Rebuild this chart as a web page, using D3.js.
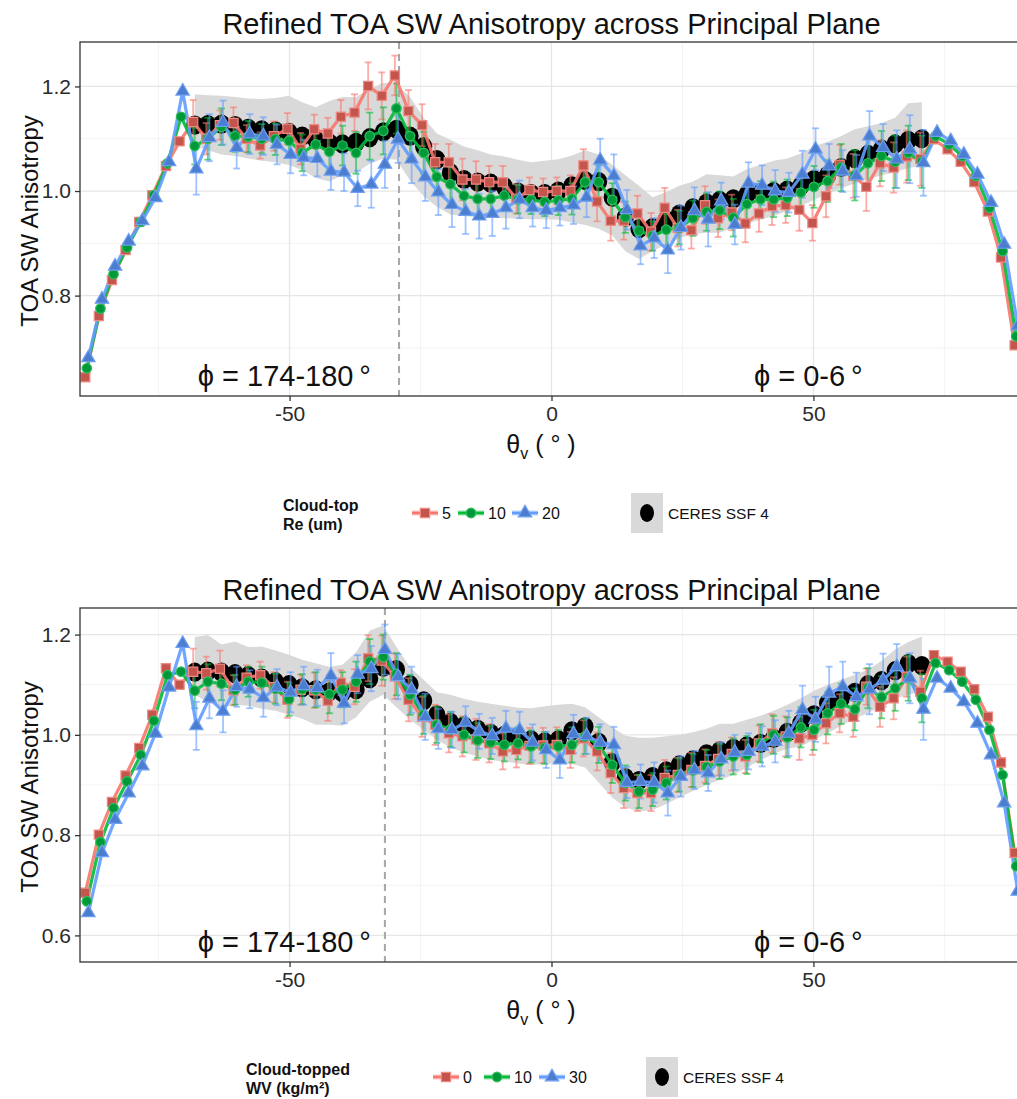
<!DOCTYPE html>
<html>
<head>
<meta charset="utf-8">
<script src="https://cdn.jsdelivr.net/npm/d3@7"></script>
<style>
body { margin: 0; background: #fff; }
#chart { width: 1017px; height: 1099px; overflow: hidden; }
text { font-family: "Liberation Sans", Arial, Helvetica, sans-serif; }
</style>
</head>
<body>
<div id="chart"></div>
<script>

// View zenith angle bins along the principal plane (deg)
const viewAngles = [
    -88.7, -86.1, -83.6, -81.0, -78.4, -75.9, -73.3, -70.7, -68.1, -65.6,
    -63.0, -60.4, -57.9, -55.3, -52.7, -50.1, -47.6, -45.0, -42.4, -39.9,
    -37.3, -34.7, -32.1, -29.6, -27.0, -24.4, -21.9, -19.3, -16.7, -14.1,
    -11.6, -9.0, -6.4, -3.9, -1.3, 1.3, 3.9, 6.4, 9.0, 11.6,
    14.1, 16.7, 19.3, 21.9, 24.4, 27.0, 29.6, 32.1, 34.7, 37.3,
    39.9, 42.4, 45.0, 47.6, 50.1, 52.7, 55.3, 57.9, 60.4, 63.0,
    65.6, 68.1, 70.7, 73.3, 75.9, 78.4, 81.0, 83.6, 86.1, 88.7
];
// CERES + error bars only exist for these bins
const ceresAngles = viewAngles.slice(8, 63);

const xTicks = [-50, 0, 50];
const xMinor = [-75, -25, 25, 75];

// ---------- top panel: cloud-top Re ----------
const re5 = [
    0.644, 0.761, 0.830, 0.887, 0.941, 0.992, 1.048, 1.095, 1.132, 1.100,
    1.126, 1.130, 1.100, 1.087, 1.105, 1.119, 1.081, 1.118, 1.110, 1.142,
    1.150, 1.201, 1.182, 1.221, 1.153, 1.126, 1.055, 1.055, 1.022, 1.022,
    1.017, 1.017, 0.985, 1.002, 0.998, 1.000, 1.000, 1.049, 0.980, 0.943,
    0.943, 0.957, 0.922, 0.968, 0.929, 0.925, 0.973, 0.948, 0.959, 0.938,
    0.957, 0.971, 0.973, 0.964, 0.939, 0.990, 1.050, 1.029, 1.008, 1.053,
    1.045, 1.066, 1.061, 1.099, 1.080, 1.056, 1.017, 0.961, 0.873, 0.705
];
const re10 = [
    0.661, 0.775, 0.841, 0.892, 0.941, 0.992, 1.053, 1.142, 1.086, 1.100,
    1.123, 1.105, 1.104, 1.100, 1.099, 1.096, 1.073, 1.089, 1.075, 1.087,
    1.073, 1.105, 1.115, 1.158, 1.105, 1.073, 1.027, 1.013, 0.991, 0.985,
    0.985, 0.991, 0.984, 0.983, 0.979, 0.982, 0.985, 1.017, 1.017, 0.983,
    0.950, 0.924, 0.914, 0.926, 0.930, 0.948, 0.960, 0.963, 0.949, 0.975,
    0.984, 0.984, 0.987, 0.997, 1.008, 1.019, 1.045, 1.030, 1.053, 1.067,
    1.056, 1.073, 1.056, 1.105, 1.089, 1.067, 1.029, 0.968, 0.885, 0.722
];
const re20 = [
    0.681, 0.793, 0.856, 0.904, 0.943, 0.987, 1.056, 1.191, 1.042, 1.102,
    1.131, 1.083, 1.109, 1.105, 1.089, 1.070, 1.064, 1.062, 1.038, 1.036,
    1.005, 1.013, 1.051, 1.099, 1.061, 1.027, 0.998, 0.974, 0.961, 0.952,
    0.957, 0.968, 0.984, 0.968, 0.963, 0.968, 0.973, 0.988, 1.059, 1.029,
    0.964, 0.895, 0.910, 0.887, 0.930, 0.962, 0.946, 0.981, 0.936, 1.015,
    1.011, 1.000, 0.997, 1.032, 1.080, 1.048, 1.038, 1.029, 1.105, 1.083,
    1.061, 1.080, 1.054, 1.112, 1.096, 1.070, 1.032, 0.978, 0.898, 0.742
];
// half widths of error bars (CERES bins)
const re5Err = [
    0.042, 0.030, 0.028, 0.030, 0.026, 0.025, 0.028, 0.030, 0.030, 0.028,
    0.030, 0.032, 0.035, 0.045, 0.045, 0.038, 0.040, 0.040, 0.035, 0.035,
    0.040, 0.035, 0.031, 0.031, 0.028, 0.024, 0.026, 0.026, 0.030, 0.031,
    0.038, 0.038, 0.036, 0.034, 0.036, 0.038, 0.035, 0.035, 0.036, 0.036,
    0.034, 0.036, 0.035, 0.036, 0.034, 0.040, 0.034, 0.040, 0.038, 0.042,
    0.046, 0.044, 0.048, 0.050, 0.051
];
const re10Err = [
    0.035, 0.040, 0.035, 0.030, 0.030, 0.028, 0.030, 0.030, 0.035, 0.033,
    0.035, 0.038, 0.040, 0.045, 0.045, 0.048, 0.042, 0.040, 0.035, 0.033,
    0.030, 0.030, 0.028, 0.028, 0.027, 0.027, 0.027, 0.028, 0.030, 0.032,
    0.032, 0.032, 0.030, 0.030, 0.028, 0.030, 0.032, 0.034, 0.036, 0.036,
    0.036, 0.036, 0.035, 0.034, 0.035, 0.036, 0.040, 0.040, 0.045, 0.048,
    0.045, 0.048, 0.050, 0.052, 0.050
];
const re20Err = [
    0.049, 0.045, 0.042, 0.040, 0.038, 0.036, 0.038, 0.036, 0.034, 0.034,
    0.036, 0.036, 0.034, 0.045, 0.045, 0.045, 0.046, 0.046, 0.044, 0.043,
    0.043, 0.043, 0.043, 0.040, 0.036, 0.036, 0.034, 0.034, 0.036, 0.038,
    0.041, 0.041, 0.038, 0.035, 0.038, 0.044, 0.042, 0.045, 0.052, 0.035,
    0.038, 0.040, 0.038, 0.040, 0.038, 0.045, 0.040, 0.042, 0.040, 0.040,
    0.048, 0.045, 0.055, 0.065, 0.063
];
const ceresTop = [
    1.126, 1.127, 1.128, 1.125, 1.120, 1.117, 1.115, 1.112, 1.105, 1.098,
    1.092, 1.090, 1.093, 1.102, 1.113, 1.118, 1.105, 1.085, 1.060, 1.035,
    1.022, 1.017, 1.015, 1.008, 0.998, 0.995, 0.995, 1.000, 1.010, 1.020,
    1.018, 0.988, 0.950, 0.928, 0.930, 0.945, 0.956, 0.968, 0.977, 0.982,
    0.985, 0.993, 0.998, 0.999, 1.002, 1.010, 1.022, 1.030, 1.045, 1.062,
    1.070, 1.080, 1.090, 1.097, 1.100
];
const ceresTopHi = [
    1.185, 1.183, 1.182, 1.180, 1.177, 1.176, 1.178, 1.182, 1.170, 1.160,
    1.172, 1.180, 1.180, 1.195, 1.207, 1.205, 1.180, 1.140, 1.110, 1.098,
    1.085, 1.078, 1.070, 1.066, 1.060, 1.055, 1.058, 1.061, 1.068, 1.078,
    1.070, 1.050, 1.030, 1.010, 0.988, 0.998, 1.010, 1.018, 1.032, 1.030,
    1.028, 1.042, 1.050, 1.058, 1.062, 1.072, 1.085, 1.094, 1.105, 1.118,
    1.124, 1.130, 1.140, 1.168, 1.170
];
const ceresTopLo = [
    1.086, 1.078, 1.070, 1.067, 1.062, 1.058, 1.055, 1.050, 1.040, 1.025,
    1.018, 1.030, 1.035, 1.052, 1.062, 1.060, 1.020, 0.990, 0.970, 0.955,
    0.952, 0.950, 0.949, 0.948, 0.947, 0.946, 0.946, 0.945, 0.940, 0.935,
    0.928, 0.915, 0.885, 0.870, 0.885, 0.898, 0.910, 0.918, 0.920, 0.920,
    0.930, 0.938, 0.945, 0.952, 0.962, 0.972, 0.983, 0.995, 1.005, 1.015,
    1.022, 1.030, 1.036, 1.044, 1.048
];

// ---------- bottom panel: cloud-topped WV ----------
const wv0 = [
    0.685, 0.801, 0.866, 0.919, 0.974, 1.040, 1.133, 1.100, 1.126, 1.123,
    1.132, 1.089, 1.114, 1.119, 1.095, 1.070, 1.090, 1.089, 1.068, 1.104,
    1.096, 1.153, 1.148, 1.117, 1.070, 1.036, 1.020, 1.003, 0.997, 0.991,
    0.983, 0.967, 0.970, 0.978, 0.979, 0.980, 0.970, 0.993, 0.967, 0.924,
    0.894, 0.884, 0.884, 0.914, 0.920, 0.930, 0.938, 0.952, 0.962, 0.957,
    0.983, 1.003, 0.997, 0.993, 1.000, 1.023, 1.043, 1.036, 1.096, 1.056,
    1.073, 1.116, 1.086, 1.159, 1.146, 1.126, 1.091, 1.036, 0.945, 0.765
];
const wv10 = [
    0.668, 0.786, 0.854, 0.907, 0.960, 1.028, 1.119, 1.126, 1.088, 1.106,
    1.102, 1.090, 1.106, 1.104, 1.092, 1.071, 1.091, 1.090, 1.081, 1.090,
    1.106, 1.146, 1.155, 1.121, 1.080, 1.040, 1.020, 1.011, 1.000, 0.989,
    0.985, 0.980, 0.983, 0.977, 0.974, 0.977, 0.980, 0.997, 0.980, 0.940,
    0.904, 0.887, 0.891, 0.904, 0.920, 0.929, 0.936, 0.947, 0.957, 0.960,
    0.983, 1.000, 0.995, 1.015, 1.010, 1.043, 1.062, 1.051, 1.093, 1.075,
    1.093, 1.113, 1.073, 1.143, 1.129, 1.106, 1.070, 1.010, 0.920, 0.738
];
const wv30 = [
    0.645, 0.765, 0.831, 0.884, 0.938, 1.003, 1.095, 1.182, 1.018, 1.073,
    1.047, 1.096, 1.091, 1.074, 1.095, 1.085, 1.098, 1.094, 1.118, 1.063,
    1.121, 1.132, 1.170, 1.116, 1.090, 1.036, 1.012, 1.010, 1.025, 1.007,
    0.998, 1.013, 1.010, 0.985, 0.970, 0.950, 1.002, 0.998, 0.985, 0.980,
    0.905, 0.907, 0.905, 0.884, 0.917, 0.930, 0.924, 0.952, 0.965, 0.967,
    0.977, 0.987, 1.003, 1.050, 1.031, 1.083, 1.096, 1.076, 1.091, 1.109,
    1.136, 1.113, 1.051, 1.113, 1.093, 1.066, 1.023, 0.960, 0.864, 0.688
];
const wv0Err = [
    0.046, 0.033, 0.036, 0.030, 0.025, 0.027, 0.030, 0.036, 0.030, 0.035,
    0.040, 0.025, 0.035, 0.046, 0.050, 0.045, 0.043, 0.040, 0.040, 0.038,
    0.040, 0.041, 0.038, 0.036, 0.035, 0.036, 0.035, 0.035, 0.036, 0.036,
    0.038, 0.040, 0.040, 0.036, 0.036, 0.036, 0.034, 0.034, 0.033, 0.033,
    0.033, 0.033, 0.036, 0.038, 0.040, 0.043, 0.040, 0.040, 0.038, 0.040,
    0.036, 0.040, 0.042, 0.040, 0.042
];
const wv10Err = [
    0.035, 0.035, 0.033, 0.030, 0.030, 0.032, 0.030, 0.033, 0.030, 0.035,
    0.038, 0.035, 0.040, 0.045, 0.045, 0.042, 0.040, 0.038, 0.036, 0.035,
    0.035, 0.035, 0.033, 0.033, 0.032, 0.032, 0.032, 0.033, 0.035, 0.035,
    0.036, 0.036, 0.035, 0.033, 0.033, 0.033, 0.033, 0.033, 0.034, 0.035,
    0.036, 0.038, 0.038, 0.038, 0.040, 0.040, 0.040, 0.042, 0.040, 0.042,
    0.040, 0.042, 0.045, 0.045, 0.048
];
const wv30Err = [
    0.048, 0.040, 0.042, 0.040, 0.038, 0.038, 0.036, 0.040, 0.038, 0.036,
    0.045, 0.040, 0.038, 0.045, 0.050, 0.045, 0.046, 0.046, 0.040, 0.036,
    0.032, 0.035, 0.036, 0.035, 0.036, 0.036, 0.036, 0.036, 0.038, 0.036,
    0.036, 0.036, 0.031, 0.034, 0.040, 0.045, 0.040, 0.038, 0.036, 0.033,
    0.035, 0.036, 0.040, 0.042, 0.045, 0.048, 0.045, 0.053, 0.050, 0.048,
    0.050, 0.053, 0.045, 0.050, 0.061
];
const ceresBot = [
    1.125, 1.127, 1.125, 1.122, 1.118, 1.113, 1.106, 1.100, 1.094, 1.090,
    1.086, 1.084, 1.090, 1.112, 1.135, 1.130, 1.100, 1.068, 1.040, 1.025,
    1.018, 1.011, 1.003, 0.999, 0.996, 0.990, 0.986, 0.990, 1.008, 1.016,
    0.985, 0.945, 0.915, 0.909, 0.917, 0.928, 0.940, 0.950, 0.962, 0.968,
    0.973, 0.978, 0.983, 0.993, 1.005, 1.023, 1.040, 1.063, 1.072, 1.085,
    1.100, 1.108, 1.128, 1.142, 1.138
];
const ceresBotHi = [
    1.195, 1.199, 1.180, 1.186, 1.175, 1.176, 1.168, 1.160, 1.150, 1.143,
    1.136, 1.140, 1.165, 1.208, 1.218, 1.175, 1.135, 1.110, 1.085, 1.080,
    1.072, 1.066, 1.062, 1.058, 1.054, 1.053, 1.057, 1.060, 1.062, 1.055,
    1.035, 1.015, 0.998, 0.994, 0.994, 0.997, 1.000, 1.005, 1.012, 1.022,
    1.022, 1.030, 1.038, 1.048, 1.060, 1.073, 1.088, 1.100, 1.110, 1.120,
    1.130, 1.148, 1.170, 1.185, 1.196
];
const ceresBotLo = [
    1.080, 1.065, 1.055, 1.060, 1.058, 1.052, 1.048, 1.040, 1.032, 1.020,
    1.020, 1.018, 1.035, 1.066, 1.080, 1.055, 1.030, 1.010, 0.990, 0.975,
    0.965, 0.957, 0.950, 0.947, 0.943, 0.940, 0.942, 0.944, 0.942, 0.935,
    0.905, 0.875, 0.855, 0.847, 0.850, 0.862, 0.875, 0.888, 0.900, 0.910,
    0.920, 0.935, 0.950, 0.962, 0.973, 0.977, 0.990, 1.003, 1.018, 1.033,
    1.043, 1.058, 1.072, 1.080, 1.086
];

const topYTicks = [0.8, 1.0, 1.2];
const topYMinor = [0.7, 0.9, 1.1];
const botYTicks = [0.6, 0.8, 1.0, 1.2];
const botYMinor = [0.7, 0.9, 1.1];

const reLabels = ["5", "10", "20"];
const wvLabels = ["0", "10", "30"];
const ceresLabel = "CERES SSF 4";
const plotTitle = "Refined TOA SW Anisotropy across Principal Plane";

// colours / marker per series (red, green, blue)
const seriesStyle = [
    {line: "#F8766D", fill: "#C4554D", rim: "#EE8A83", shape: d3.symbolSquare, size: 85, dodge: -0.3},
    {line: "#00BA38", fill: "#00993A", rim: "#2FBE5C", shape: d3.symbolCircle, size: 72, dodge: 0},
    {line: "#619CFF", fill: "#4B7DD0", rim: "#6F9FF0", shape: d3.symbolTriangle, size: 78, dodge: 0.3}
];


class AnisotropyPanel {
    constructor(svg, config) {
        this.svg = svg;
        this.config = config;
        this.initVis();
    }

    initVis() {
        let vis = this;
        let c = vis.config;

        // panel runs slightly past the right edge of the page, like in the picture
        vis.margin = {left: 80, top: c.top};
        vis.width = 943;
        vis.height = 354;

        vis.g = vis.svg.append("g")
            .attr("transform", "translate(" + vis.margin.left + "," + vis.margin.top + ")");

        vis.x = d3.scaleLinear().domain([-90, 90]).range([0, vis.width]);
        vis.y = d3.scaleLinear().domain(c.yDomain).range([vis.height, 0]);

        vis.svg.append("clipPath").attr("id", "clip-" + c.id)
            .append("rect")
            .attr("width", vis.width)
            .attr("height", vis.height);

        // grid
        let grid = vis.g.append("g").attr("class", "grid");
        grid.selectAll(".ymin").data(c.yMinor).join("line")
            .attr("x1", 0).attr("x2", vis.width)
            .attr("y1", d => vis.y(d)).attr("y2", d => vis.y(d))
            .attr("stroke", "#F3F3F3").attr("stroke-width", 1);
        grid.selectAll(".xmin").data(xMinor).join("line")
            .attr("y1", 0).attr("y2", vis.height)
            .attr("x1", d => vis.x(d)).attr("x2", d => vis.x(d))
            .attr("stroke", "#F3F3F3").attr("stroke-width", 1);
        grid.selectAll(".ymaj").data(c.yTicks).join("line")
            .attr("x1", 0).attr("x2", vis.width)
            .attr("y1", d => vis.y(d)).attr("y2", d => vis.y(d))
            .attr("stroke", "#E6E6E6").attr("stroke-width", 1.3);
        grid.selectAll(".xmaj").data(xTicks).join("line")
            .attr("y1", 0).attr("y2", vis.height)
            .attr("x1", d => vis.x(d)).attr("x2", d => vis.x(d))
            .attr("stroke", "#E6E6E6").attr("stroke-width", 1.3);

        vis.plot = vis.g.append("g").attr("clip-path", "url(#clip-" + c.id + ")");

        // panel border
        vis.g.append("rect")
            .attr("width", vis.width).attr("height", vis.height)
            .attr("fill", "none").attr("stroke", "#333").attr("stroke-width", 1.3);

        // axes
        vis.xAxis = d3.axisBottom(vis.x).tickValues(xTicks).tickFormat(d => String(d))
            .tickSize(5).tickPadding(5);
        vis.yAxis = d3.axisLeft(vis.y).tickValues(c.yTicks).tickFormat(d3.format(".1f"))
            .tickSize(5).tickPadding(4);

        vis.g.append("g").attr("class", "x-axis")
            .attr("transform", "translate(0," + vis.height + ")")
            .call(vis.xAxis);
        vis.g.append("g").attr("class", "y-axis")
            .call(vis.yAxis);
        vis.g.selectAll(".x-axis, .y-axis")
            .attr("font-size", 21).attr("font-family", null)
            .call(g => g.select(".domain").remove())
            .call(g => g.selectAll("line").attr("stroke", "#333").attr("stroke-width", 1.3))
            .call(g => g.selectAll("text").attr("fill", "#2b2b2b"));

        // titles
        vis.svg.append("text")
            .attr("x", 80 + vis.width / 2).attr("y", c.top - 8)
            .attr("text-anchor", "middle").attr("font-size", 29).attr("fill", "#111")
            .text(plotTitle);

        vis.svg.append("text")
            .attr("transform", "translate(29," + (c.top + vis.height / 2 + 2) + ") rotate(-90)")
            .attr("text-anchor", "middle").attr("dominant-baseline", "central")
            .attr("font-size", 24).attr("fill", "#111")
            .text("TOA SW Anisotropy");

        let xt = vis.svg.append("text")
            .attr("x", 541).attr("y", c.top + vis.height + 57)
            .attr("text-anchor", "middle").attr("font-size", 25).attr("fill", "#111");
        xt.append("tspan").text("θ");
        xt.append("tspan").attr("font-size", 16).attr("dy", 6).text("v");
        xt.append("tspan").attr("dy", -6).text(" ( ° )");

        vis.wrangleData();
    }

    wrangleData() {
        let vis = this;
        let c = vis.config;

        vis.series = c.values.map((vals, i) => {
            let st = seriesStyle[i];
            return {
                style: st,
                points: vals.map((v, k) => ({x: viewAngles[k] + st.dodge, y: v})),
                bars: c.errors[i].map((e, k) => ({
                    x: ceresAngles[k] + st.dodge,
                    lo: vals[k + 8] - e,
                    hi: vals[k + 8] + e
                }))
            };
        });
        vis.ceres = c.ceres.map((v, k) => ({x: ceresAngles[k], y: v, lo: c.ceresLo[k], hi: c.ceresHi[k]}));

        vis.updateVis();
    }

    updateVis() {
        let vis = this;
        let c = vis.config;

        // CERES spread ribbon
        let area = d3.area()
            .x(d => vis.x(d.x))
            .y0(d => vis.y(d.lo))
            .y1(d => vis.y(d.hi));
        vis.plot.append("path")
            .datum(vis.ceres)
            .attr("d", area)
            .attr("fill", "#D9D9D9");

        // specular direction
        vis.plot.append("line")
            .attr("x1", vis.x(c.dashAt)).attr("x2", vis.x(c.dashAt))
            .attr("y1", 0).attr("y2", vis.height)
            .attr("stroke", "#A6A6A6").attr("stroke-width", 2)
            .attr("stroke-dasharray", "7,5");

        // CERES points (big black dots)
        vis.plot.append("g").selectAll("ellipse")
            .data(vis.ceres)
            .join("ellipse")
            .attr("cx", d => vis.x(d.x))
            .attr("cy", d => vis.y(d.y))
            .attr("rx", 8.6).attr("ry", 9.6)
            .attr("fill", "#000");

        // error bars
        vis.series.forEach(s => {
            let eb = vis.plot.append("g")
                .attr("stroke", s.style.line).attr("stroke-opacity", 0.6)
                .attr("stroke-width", 1.8);
            eb.selectAll(".v").data(s.bars).join("line")
                .attr("x1", d => vis.x(d.x)).attr("x2", d => vis.x(d.x))
                .attr("y1", d => vis.y(d.lo)).attr("y2", d => vis.y(d.hi));
            eb.selectAll(".t").data(s.bars).join("line")
                .attr("x1", d => vis.x(d.x) - 3.5).attr("x2", d => vis.x(d.x) + 3.5)
                .attr("y1", d => vis.y(d.hi)).attr("y2", d => vis.y(d.hi));
            eb.selectAll(".b").data(s.bars).join("line")
                .attr("x1", d => vis.x(d.x) - 3.5).attr("x2", d => vis.x(d.x) + 3.5)
                .attr("y1", d => vis.y(d.lo)).attr("y2", d => vis.y(d.lo));
        });

        // lines
        let line = d3.line().x(d => vis.x(d.x)).y(d => vis.y(d.y));
        vis.series.forEach(s => {
            vis.plot.append("path")
                .datum(s.points)
                .attr("d", line)
                .attr("fill", "none")
                .attr("stroke", s.style.line)
                .attr("stroke-width", 3.2)
                .attr("stroke-opacity", 0.9)
                .attr("stroke-linejoin", "round");
        });

        // markers
        vis.series.forEach(s => {
            let sym = d3.symbol().type(s.style.shape).size(s.style.size);
            vis.plot.append("g").selectAll("path")
                .data(s.points)
                .join("path")
                .attr("transform", d => "translate(" + vis.x(d.x) + "," + vis.y(d.y) + ")")
                .attr("d", sym)
                .attr("fill", s.style.fill)
                .attr("stroke", s.style.rim)
                .attr("stroke-width", 1.2);
        });

        // azimuth labels
        c.notes.forEach(n => {
            vis.plot.append("text")
                .attr("x", vis.x(n.x)).attr("y", vis.y(n.y))
                .attr("text-anchor", "middle").attr("dominant-baseline", "central")
                .attr("font-size", 29).attr("fill", "#111")
                .text(n.text);
        });
    }
}


function drawLegend(svg, opts) {
    let g = svg.append("g");
    g.selectAll(".ttl").data(opts.title).join("text")
        .attr("x", opts.titleX).attr("y", (d, i) => opts.y - 1 + i * 19)
        .attr("font-size", 16).attr("font-weight", "bold").attr("fill", "#111")
        .text(d => d);

    opts.labels.forEach((lab, i) => {
        let st = seriesStyle[i];
        let cx = opts.keyX[i];
        let cy = opts.y + 1;
        g.append("line")
            .attr("x1", cx - 13).attr("x2", cx + 13).attr("y1", cy).attr("y2", cy)
            .attr("stroke", st.line).attr("stroke-opacity", 0.45).attr("stroke-width", 5);
        g.append("line")
            .attr("x1", cx - 13).attr("x2", cx + 13).attr("y1", cy).attr("y2", cy)
            .attr("stroke", st.line).attr("stroke-width", 2.5);
        g.append("path")
            .attr("transform", "translate(" + cx + "," + cy + ")")
            .attr("d", d3.symbol().type(st.shape).size(st.size)())
            .attr("fill", st.fill).attr("stroke", st.rim).attr("stroke-width", 1.2);
        g.append("text")
            .attr("x", cx + 17).attr("y", cy + 6)
            .attr("font-size", 16).attr("fill", "#111")
            .text(lab);
    });

    g.append("rect")
        .attr("x", opts.boxX).attr("y", opts.y - 19)
        .attr("width", 32).attr("height", 40)
        .attr("fill", "#D9D9D9");
    g.append("ellipse")
        .attr("cx", opts.boxX + 16).attr("cy", opts.y + 1)
        .attr("rx", 7).attr("ry", 9)
        .attr("fill", "#000");
    g.append("text")
        .attr("x", opts.boxX + 37).attr("y", opts.y + 7)
        .attr("font-size", 15.5).attr("fill", "#111")
        .text(ceresLabel);
}


const svg = d3.select("#chart").append("svg")
    .attr("width", 1017)
    .attr("height", 1099);

new AnisotropyPanel(svg, {
    id: "re",
    top: 42,
    yDomain: [0.608, 1.285],
    yTicks: topYTicks,
    yMinor: topYMinor,
    values: [re5, re10, re20],
    errors: [re5Err, re10Err, re20Err],
    ceres: ceresTop, ceresLo: ceresTopLo, ceresHi: ceresTopHi,
    dashAt: -29.1,
    notes: [{x: -51, y: 0.647, text: "ϕ = 174-180\u2009°"}, {x: 49, y: 0.647, text: "ϕ = 0-6\u2009°"}]
});

new AnisotropyPanel(svg, {
    id: "wv",
    top: 608,
    yDomain: [0.547, 1.253],
    yTicks: botYTicks,
    yMinor: botYMinor,
    values: [wv0, wv10, wv30],
    errors: [wv0Err, wv10Err, wv30Err],
    ceres: ceresBot, ceresLo: ceresBotLo, ceresHi: ceresBotHi,
    dashAt: -31.8,
    notes: [{x: -51, y: 0.586, text: "ϕ = 174-180\u2009°"}, {x: 49, y: 0.586, text: "ϕ = 0-6\u2009°"}]
});

drawLegend(svg, {
    title: ["Cloud-top", "Re (um)"],
    titleX: 283, y: 512,
    labels: reLabels,
    keyX: [425, 471, 525],
    boxX: 631
});

drawLegend(svg, {
    title: ["Cloud-topped", "WV (kg/m²)"],
    titleX: 246, y: 1076,
    labels: wvLabels,
    keyX: [446, 497, 552],
    boxX: 646
});

</script>
</body>
</html>
